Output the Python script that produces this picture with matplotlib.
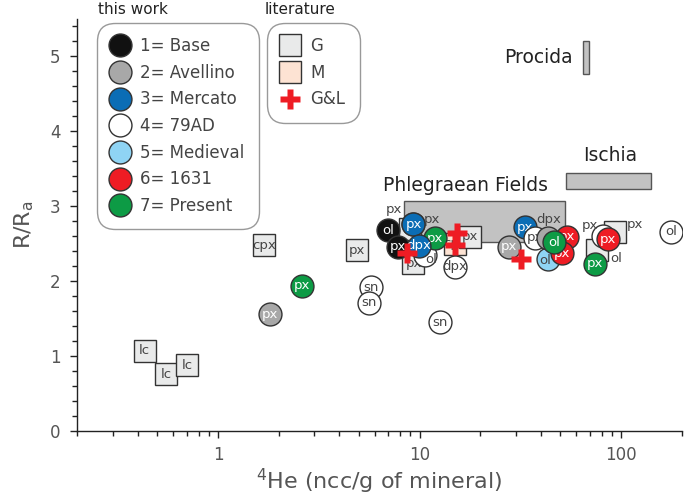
import matplotlib
matplotlib.use('Agg')
import matplotlib.pyplot as plt
from matplotlib.lines import Line2D
from matplotlib.patches import Rectangle
from matplotlib.ticker import FixedLocator, LogLocator, MultipleLocator, NullFormatter, FixedFormatter

plt.rcParams['font.family'] = ['DejaVu Sans']

# ---------------- data ----------------
group_names = ['1= Base', '2= Avellino', '3= Mercato', '4= 79AD',
               '5= Medieval', '6= 1631', '7= Present']
group_colors = ['#111111', '#a8a8a8', '#0b6db5', '#ffffff',
                '#8fd4f4', '#ee1c24', '#0d9b45']

# this work (drawing order: later on top)
tw_he = [1.81, 2.62, 5.72, 5.6, 12.6, 15.0, 10.6, 7.0, 7.85, 9.33, 9.33,
         11.9, 9.94, 27.9, 33.4, 43.6, 37.4, 43.6, 53.8, 50.8, 46.5,
         81.5, 85.9, 74.3, 177]
tw_ra = [1.56, 1.94, 1.92, 1.71, 1.45, 2.19, 2.35, 2.68, 2.46, 2.76, 2.76,
         2.57, 2.47, 2.46, 2.72, 2.30, 2.58, 2.57, 2.59, 2.37, 2.52,
         2.60, 2.56, 2.23, 2.66]
tw_group = [2, 7, 4, 4, 4, 4, 4, 1, 1, 4, 3,
            7, 3, 2, 3, 5, 4, 2, 6, 6, 7,
            4, 6, 7, 4]
tw_label = ['px', 'px', 'sn', 'sn', 'sn', 'dpx', 'ol', 'ol', 'px', 'px', 'px',
            'px', 'dpx', 'px', 'px', 'ol', 'px', 'dpx', 'px', 'px', 'ol',
            'px', 'px', 'px', 'ol']

# literature G (squares)
g_he = [0.433, 0.552, 0.704, 1.69, 4.91, 8.92, 9.33, 17.8, 93.4, 75.7]
g_ra = [1.07, 0.76, 0.88, 2.48, 2.41, 2.70, 2.24, 2.59, 2.66, 2.41]
g_label = ['lc', 'lc', 'lc', 'cpx', 'px', 'px', 'px', 'px', 'px', 'ol']

# literature M (squares)
m_he = [15.0]
m_ra = [2.50]
m_label = ['cpx']

# literature G&L (crosses)
gl_he = [8.64, 15.3, 15.0, 31.8]
gl_ra = [2.37, 2.64, 2.48, 2.30]

# volcanic field ranges
region_names = ['Phlegraean Fields', 'Ischia', 'Procida']
region_he_min = [8.38, 53.3, 64.6]
region_he_max = [53.0, 141.0, 69.7]
region_ra_min = [2.52, 3.23, 4.76]
region_ra_max = [3.07, 3.44, 5.20]

x_ticks = [1, 10, 100]
y_ticks = [0, 1, 2, 3, 4, 5]

# ---------------- style ----------------
tw_label_offset = {6: (4.8, -3.6), 9: (13.3, 2.9), 15: (-2.0, -1.5),
                   17: (0, 13.2), 21: (-9.4, 7.9)}
g_label_offset = {5: (-11.2, 14.0), 8: (14.0, 5.0), 9: (14.2, -6.0)}
dark_text = '#444444'
edge = '#333333'
G_face = '#e9eaea'
M_face = '#fde3d3'
cross_color = '#ee1c24'
MS = 16.5

fig = plt.figure(figsize=(6.85, 5.03), dpi=100)
ax = fig.add_axes([0.1127, 0.1431, 0.8825, 0.8201])
ax.set_xscale('log')
ax.set_xlim(0.2, 200)
ax.set_ylim(0, 5.5)

# region bars
for i, name in enumerate(region_names):
    r = Rectangle((region_he_min[i], region_ra_min[i]),
                  region_he_max[i] - region_he_min[i],
                  region_ra_max[i] - region_ra_min[i],
                  facecolor='#c2c2c2', edgecolor='#555555', lw=1.0, zorder=1)
    ax.add_patch(r)

ax.annotate(region_names[0], xy=((region_he_min[0] * region_he_max[0]) ** 0.5, region_ra_max[0]),
            xytext=(-13.7, 10.8), textcoords='offset points', ha='center', va='center',
            fontsize=13.5, color='#222222', zorder=2)
ax.annotate(region_names[1], xy=((region_he_min[1] * region_he_max[1]) ** 0.5, region_ra_max[1]),
            xytext=(1, 12.7), textcoords='offset points', ha='center', va='center',
            fontsize=13.5, color='#222222', zorder=2)
ax.annotate(region_names[2], xy=(region_he_min[2], (region_ra_min[2] + region_ra_max[2]) / 2),
            xytext=(-7.2, 0), textcoords='offset points', ha='right', va='center',
            fontsize=13.5, color='#222222', zorder=2)

z = 3
# M squares
for i in range(len(m_he)):
    ax.plot(m_he[i], m_ra[i], 's', ms=MS, mfc=M_face, mec=edge, mew=1.0, zorder=z)
    ax.annotate(m_label[i], xy=(m_he[i], m_ra[i]), xytext=(0, 0), textcoords='offset points',
                ha='center', va='center', fontsize=9.5, color=dark_text, zorder=z + 0.5)
    z += 1
# G squares
for i in range(len(g_he)):
    ax.plot(g_he[i], g_ra[i], 's', ms=MS, mfc=G_face, mec=edge, mew=1.0, zorder=z)
    off = g_label_offset.get(i, (0, 0))
    ax.annotate(g_label[i], xy=(g_he[i], g_ra[i]), xytext=off, textcoords='offset points',
                ha='center', va='center', fontsize=9.5, color=dark_text, zorder=z + 0.5)
    z += 1
# this work circles
for i in range(len(tw_he)):
    g = tw_group[i] - 1
    ax.plot(tw_he[i], tw_ra[i], 'o', ms=MS, mfc=group_colors[g], mec=edge, mew=1.0, zorder=z)
    off = tw_label_offset.get(i, (0, 0))
    tc = dark_text if g in (3, 4) else 'white'
    if off != (0, 0):
        tc = dark_text if g in (3, 4, 1) else tc
    ax.annotate(tw_label[i], xy=(tw_he[i], tw_ra[i]), xytext=off, textcoords='offset points',
                ha='center', va='center', fontsize=9.5, color=tc, zorder=z + 0.5)
    z += 1
# G&L crosses
ax.plot(gl_he, gl_ra, 'P', ms=14, mfc=cross_color, mec='none', ls='none', zorder=z + 5)

# axes styling
for s in ['top', 'right']:
    ax.spines[s].set_visible(False)
for s in ['left', 'bottom']:
    ax.spines[s].set_color('#222222')
    ax.spines[s].set_linewidth(1.0)

ax.xaxis.set_major_locator(FixedLocator(x_ticks))
ax.xaxis.set_major_formatter(FixedFormatter([str(t) for t in x_ticks]))
ax.xaxis.set_minor_locator(LogLocator(base=10, subs=[2, 3, 4, 5, 6, 7, 8, 9]))
ax.xaxis.set_minor_formatter(NullFormatter())
ax.yaxis.set_major_locator(FixedLocator(y_ticks))
ax.yaxis.set_minor_locator(MultipleLocator(0.2))
ax.tick_params(axis='both', which='major', length=5, width=1.0, color='#222222',
               labelsize=12, labelcolor='#555555')
ax.tick_params(axis='both', which='minor', length=3.5, width=1.0, color='#222222')
ax.tick_params(axis='x', which='major', pad=6)
ax.tick_params(axis='y', which='major', pad=7)

ax.set_xlabel(r'$\mathregular{^4}$He (ncc/g of mineral)', fontsize=16, color='#555555', labelpad=2)
ax.set_ylabel(r'R/R$\mathregular{_a}$', fontsize=16, color='#555555', labelpad=10)

# legends
leg_kw = dict(loc='upper left', bbox_transform=fig.transFigure, borderaxespad=0, fontsize=12,
              labelcolor='#444444', frameon=True, fancybox=True, edgecolor='#999999',
              framealpha=1, borderpad=0.85, handlelength=1.06, handletextpad=0.7,
              labelspacing=0.52)
h1 = [Line2D([], [], marker='o', ls='none', ms=MS, mfc=c, mec=edge, mew=1.0) for c in group_colors]
leg1 = fig.legend(h1, group_names, bbox_to_anchor=(97 / 685, 1 - 23 / 503), **leg_kw)
leg1.get_frame().set_linewidth(1.0)
leg1.get_frame().set_boxstyle('round', pad=0, rounding_size=1.1)

h2 = [Line2D([], [], marker='s', ls='none', ms=MS, mfc=G_face, mec=edge, mew=1.0),
      Line2D([], [], marker='s', ls='none', ms=MS, mfc=M_face, mec=edge, mew=1.0),
      Line2D([], [], marker='P', ls='none', ms=14, mfc=cross_color, mec='none')]
leg2 = fig.legend(h2, ['G', 'M', 'G&L'], bbox_to_anchor=(267 / 685, 1 - 23 / 503), **leg_kw)
leg2.get_frame().set_linewidth(1.0)
leg2.get_frame().set_boxstyle('round', pad=0, rounding_size=1.1)

fig.text(133 / 685, 1 - 9 / 503, 'this work', ha='center', va='center', fontsize=11, color='#222222')
fig.text(300 / 685, 1 - 10 / 503, 'literature', ha='center', va='center', fontsize=11, color='#222222')

fig.savefig('out.png', dpi=100)
